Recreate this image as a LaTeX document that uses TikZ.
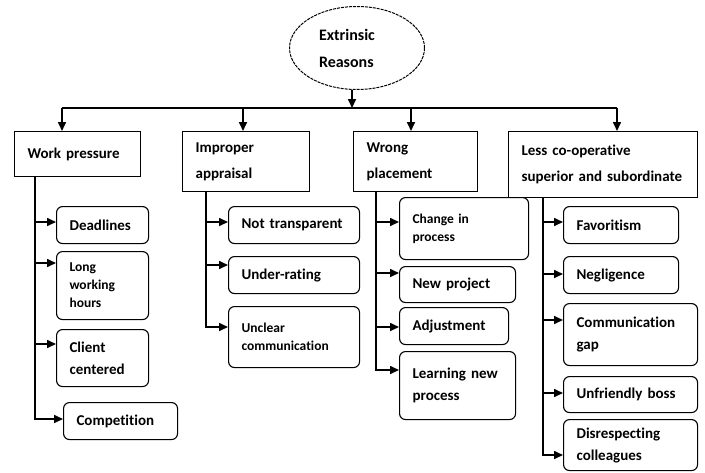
\documentclass[tikz,border=0pt]{standalone}
\usepackage{fontspec}
\setmainfont{Carlito}[Ligatures=NoCommon]
\usetikzlibrary{arrows.meta,shapes.geometric}

\begin{document}
\begin{tikzpicture}[
  x=1pt, y=-1pt,
  top/.style={draw, line width=1.2pt, anchor=north west, align=left, inner xsep=13pt, inner ysep=2pt, font=\bfseries\fontsize{15}{26}\selectfont},
  sub/.style={draw, line width=1.1pt, rounded corners=6pt, anchor=north west, align=left, inner xsep=13pt, inner ysep=2pt, font=\bfseries\fontsize{15}{22}\selectfont},
  small/.style={font=\bfseries\fontsize{13.5}{18}\selectfont},
  line/.style={line width=1.4pt},
  arrow/.style={line width=1.6pt, -{Triangle[length=9pt,width=8pt]}}
]
\useasboundingbox (0,0) rectangle (705,472);

\node[draw, dashed, dash pattern=on 3pt off 1pt, ellipse, line width=1pt, minimum width=135pt, minimum height=83pt, inner sep=0pt, text width=76pt, align=left, font=\bfseries\fontsize{16}{27}\selectfont] (reasons) at (357,48) {Extrinsic\\Reasons};
\coordinate (bus) at (0,108);

\node[top, text width=100pt, minimum height=45pt] (work) at (14,131) {Work pressure};
\node[top, text width=101pt, minimum height=60pt] (appraisal) at (182,131) {Improper\\appraisal};
\node[top, text width=98pt, minimum height=60pt] (placement) at (353,131) {Wrong\\placement};
\node[top, text width=163pt, minimum height=66pt] (coop) at (508,131) {Less co-operative\\superior and subordinate};

\node[sub, text width=66pt, minimum height=37pt] (deadlines) at (56,206) {Deadlines};
\node[sub, small, text width=66pt, minimum height=68pt] (hours) at (56,251) {Long\\working\\hours};
\node[sub, text width=66pt, minimum height=57pt] (client) at (56,329) {Client\\centered};
\node[sub, text width=88pt, minimum height=37pt] (competition) at (63,402) {Competition};

\node[sub, text width=105pt, minimum height=37pt] (transparent) at (228,206) {Not transparent};
\node[sub, text width=105pt, minimum height=37pt] (rating) at (228,256) {Under-rating};
\node[sub, small, text width=105pt, minimum height=61pt] (unclear) at (228,306) {Unclear\\communication};

\node[sub, small, text width=103pt, minimum height=62pt] (change) at (399,197) {Change in\\process};
\node[sub, text width=90pt, minimum height=36pt] (project) at (399,266) {New project};
\node[sub, text width=83pt, minimum height=37pt] (adjust) at (399,307) {Adjustment};
\node[sub, text width=90pt, minimum height=68pt] (learning) at (399,351) {Learning new\\process};

\node[sub, text width=89pt, minimum height=37pt] (favour) at (563,206) {Favoritism};
\node[sub, text width=89pt, minimum height=37pt] (neglect) at (563,256) {Negligence};
\node[sub, text width=108pt, minimum height=62pt] (gap) at (563,303) {Communication\\gap};
\node[sub, text width=108pt, minimum height=36pt] (boss) at (563,376) {Unfriendly boss};
\node[sub, text width=108pt, minimum height=51pt] (respect) at (563,419) {Disrespecting\\colleagues};

\coordinate (workA) at ([xshift=48pt]work.north west);
\coordinate (appraisalA) at ([xshift=61pt]appraisal.north west);
\coordinate (placementA) at ([xshift=58pt]placement.north west);
\coordinate (coopA) at ([xshift=109pt]coop.north west);

\draw[arrow] ([xshift=-5pt]reasons.south) -- ([xshift=-5pt]reasons.south |- bus);
\draw[line] (workA |- bus) -- (coopA |- bus);
\draw[arrow] (workA |- bus) -- (workA);
\draw[arrow] (appraisalA |- bus) -- (appraisalA);
\draw[arrow] (placementA |- bus) -- (placementA);
\draw[arrow] (coopA |- bus) -- (coopA);

\coordinate (workT) at ([xshift=21pt]work.south west);
\coordinate (appraisalT) at ([xshift=24pt]appraisal.south west);
\coordinate (placementT) at ([xshift=23pt]placement.south west);
\coordinate (coopT) at ([xshift=35pt]coop.south west);

\draw[arrow] (workT) |- ([yshift=-16pt]deadlines.north west);
\draw[arrow] (workT) |- ([yshift=-12pt]hours.north west);
\draw[arrow] (workT) |- ([yshift=-15pt]client.north west);
\draw[arrow] (workT) |- ([yshift=-17pt]competition.north west);

\draw[arrow] (appraisalT) |- ([yshift=-16pt]transparent.north west);
\draw[arrow] (appraisalT) |- ([yshift=-9pt]rating.north west);
\draw[arrow] (appraisalT) |- ([yshift=-21pt]unclear.north west);

\draw[arrow] (placementT) |- ([yshift=-25pt]change.north west);
\draw[arrow] (placementT) |- ([yshift=-7pt]project.north west);
\draw[arrow] (placementT) |- ([yshift=-20pt]adjust.north west);
\draw[arrow] (placementT) |- ([yshift=-19pt]learning.north west);

\draw[arrow] (coopT) |- ([yshift=-16pt]favour.north west);
\draw[arrow] (coopT) |- ([yshift=-18pt]neglect.north west);
\draw[arrow] (coopT) |- ([yshift=-17pt]gap.north west);
\draw[arrow] (coopT) |- ([yshift=-17pt]boss.north west);
\draw[arrow] (coopT) |- ([yshift=-36pt]respect.north west);
\end{tikzpicture}
\end{document}
